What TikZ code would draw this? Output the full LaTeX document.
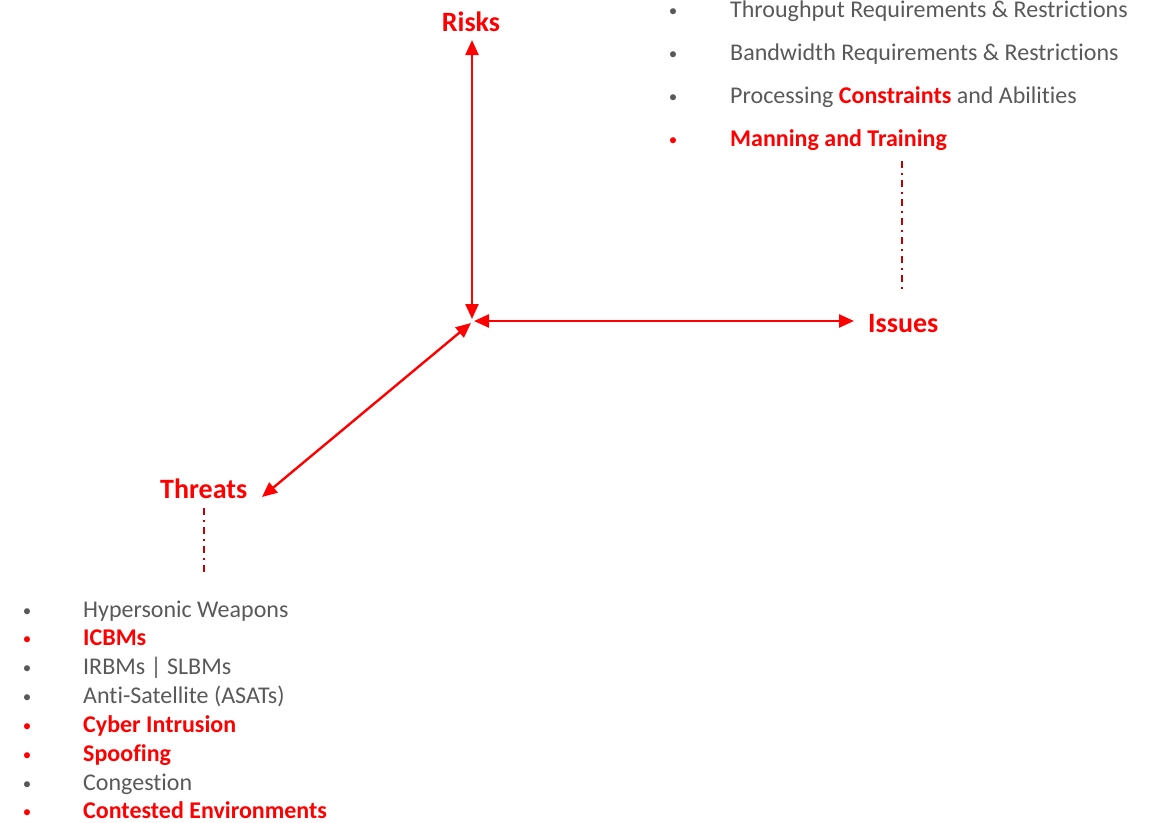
\documentclass[tikz,border=0pt]{standalone}
\usepackage{fontspec}
\setmainfont{Carlito}[Ligatures={NoCommon,NoRare,NoContextual}]
\usetikzlibrary{arrows.meta}
\definecolor{hot}{HTML}{FF0000}
\definecolor{txtgray}{HTML}{595959}
\definecolor{leader}{HTML}{C00000}
\tikzset{
  axis/.style={draw=hot, line width=2.4pt, {Triangle[length=15pt,width=13pt]}-{Triangle[length=15pt,width=13pt]}},
  axislabel/.style={text=hot, font=\fontsize{28}{30}\selectfont\bfseries, inner sep=0pt},
  leaderline/.style={draw=leader, line width=2.2pt, dash pattern=on 6.5pt off 5pt on 2pt off 5.5pt},
  bul/.style={inner sep=0pt, anchor=base, font=\fontsize{17}{20}\selectfont},
  item/.style={inner sep=0pt, anchor=base west, font=\fontsize{24}{26}\selectfont, text=txtgray},
  hotitem/.style={item, text=hot, font=\fontsize{24}{26}\selectfont\bfseries},
}
\begin{document}
\begin{tikzpicture}[x=1pt,y=-1pt]
\useasboundingbox (0,0) rectangle (1150,822);

% hub and axis labels
\coordinate (hub) at (472,321);
\node[axislabel, anchor=base] (risks) at (471,31) {Risks};
\node[axislabel, anchor=base west] (issues) at (868,332) {Issues};
\node[axislabel, anchor=base west] (threats) at (160,498) {Threats};

% arrow tips near the labels
\coordinate (risksTip) at (472,40);
\coordinate (issuesTip) at (854,321);
\coordinate (threatsTip) at (262,497);
\coordinate (hubTop) at (472,319);
\coordinate (hubRight) at (474,321);
\coordinate (hubDiag) at (471,323);

\draw[axis] (hubTop) -- (risksTip);
\draw[axis] (hubRight) -- (issuesTip);
\draw[axis] (hubDiag) -- (threatsTip);

% dash-dot leaders down to the lists
\coordinate (issuesTop) at (902,161);
\coordinate (issuesBot) at (902,291);
\draw[leaderline] (issuesTop) -- (issuesBot);
\coordinate (threatsTop) at (204,508);
\coordinate (threatsBot) at (204,576);
\draw[leaderline] (threatsTop) -- (threatsBot);

% issues list
\node[bul, text=txtgray] (b1) at (673,16) {•};
\node[item] (i1) at (730,17) {Throughput Requirements \& Restrictions};
\node[bul, text=txtgray] (b2) at (673,59) {•};
\node[item] (i2) at (730,60) {Bandwidth Requirements \& Restrictions};
\node[bul, text=txtgray] (b3) at (673,102) {•};
\node[item] (i3) at (730,103) {Processing {\color{hot}\bfseries Constraints} and Abilities};
\node[bul, text=hot] (b4) at (673,145) {•};
\node[hotitem] (i4) at (730,146) {Manning and Training};

% threats list
\node[bul, text=txtgray] (t1b) at (27,616) {•};
\node[item] (t1) at (83,617) {Hypersonic Weapons};
\node[bul, text=hot] (t2b) at (27,644) {•};
\node[hotitem] (t2) at (83,645) {ICBMs};
\node[bul, text=txtgray] (t3b) at (27,673) {•};
\node[item] (t3) at (83,674) {IRBMs | SLBMs};
\node[bul, text=txtgray] (t4b) at (27,702) {•};
\node[item] (t4) at (83,703) {Anti-Satellite (ASATs)};
\node[bul, text=hot] (t5b) at (27,731) {•};
\node[hotitem] (t5) at (83,732) {Cyber Intrusion};
\node[bul, text=hot] (t6b) at (27,760) {•};
\node[hotitem] (t6) at (83,761) {Spoofing};
\node[bul, text=txtgray] (t7b) at (27,789) {•};
\node[item] (t7) at (83,790) {Congestion};
\node[bul, text=hot] (t8b) at (27,817) {•};
\node[hotitem] (t8) at (83,818) {Contested Environments};
\end{tikzpicture}
\end{document}
